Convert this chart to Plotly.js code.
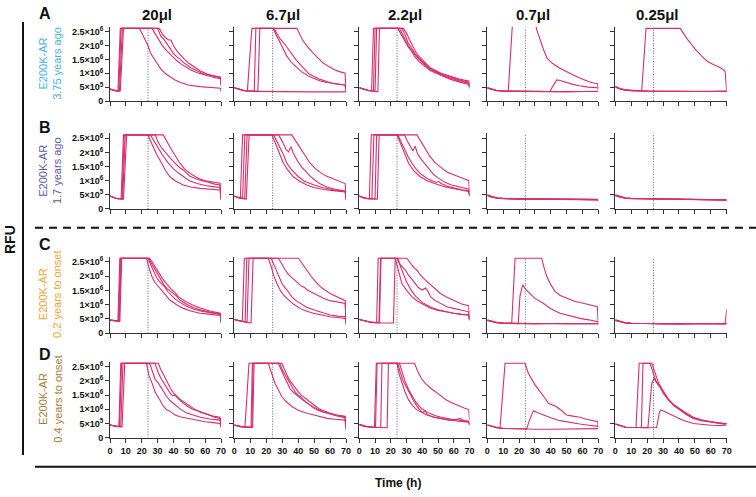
<!DOCTYPE html>
<html>
<head>
<meta charset="utf-8">
<script src="https://cdn.plot.ly/plotly-3.0.1.min.js"></script>
<style>html,body{margin:0;padding:0;background:#fff}#chart{width:756px;height:497px}</style>
</head>
<body>
<div id="chart"></div>
<script>
// ---------- DATA (time in h, RFU in units of 10^6) ----------
const volumes = ["20μl", "6.7μl", "2.2μl", "0.7μl", "0.25μl"];
const rowLetters = ["A", "B", "C", "D"];
const rowLabels = ["E200K-AR<br>3.75 years ago", "E200K-AR<br>1.7 years ago", "E200K-AR<br>0.2 years to onset", "E200K-AR<br>0.4 years to onset"];
const rowColors = ["#45b2e3", "#5a5ca6", "#f2a533", "#a98035"];
const yTickVals = [0, 0.5, 1, 1.5, 2, 2.5];
const yTickText = ["0", "5×10<sup>5</sup>", "1×10<sup>6</sup>", "1.5×10<sup>6</sup>", "2×10<sup>6</sup>", "2.5×10<sup>6</sup>"];
const xTickVals = [0, 10, 20, 30, 40, 50, 60, 70];
const markerHour = 24;

// Row A
const A_20 = [
 [[0,.43],[2,.39],[4,.36],[5,.36],[6.5,2.62],[18.5,2.62],[21,2.36],[23.8,2.02],[25.6,1.72],[29.4,1.36],[32,1.16],[34.7,1.0],[38,.86],[41,.76],[45,.66],[49.4,.58],[56.7,.52],[62,.49],[68.3,.46],[69.7,.46],[70,.34]],
 [[0,.43],[2,.39],[4,.37],[5.5,.37],[7,2.62],[26.5,2.62],[29,2.38],[31,2.15],[33,2.0],[36,1.8],[39,1.63],[42,1.46],[45,1.33],[48,1.22],[51,1.12],[55,1.02],[60,.93],[65,.86],[69.6,.80],[70,.60]],
 [[0,.43],[2,.39],[4,.36],[6,.36],[7.8,2.62],[30,2.62],[32,2.35],[34,2.22],[36,2.05],[38,1.9],[40,1.72],[42,1.6],[44,1.52],[46,1.40],[48,1.32],[51,1.2],[54,1.12],[58,1.0],[63,.93],[67,.89],[69.6,.87],[70,.55]],
 [[0,.43],[2,.39],[4,.36],[6.5,.36],[8.5,2.62],[31,2.62],[33,2.42],[35,2.28],[37,2.2],[38.5,2.2],[40,2.0],[42,1.82],[44,1.68],[47,1.5],[50,1.35],[53,1.22],[57,1.08],[62,.96],[66,.9],[69.6,.84],[70,.62]]
];
const A_6_7 = [
 [[0,.48],[3,.42],[6,.37],[10,.35],[20,.34],[30,.33],[40,.34],[50,.33],[60,.33],[69.5,.33],[70,.36]],
 [[0,.48],[3,.42],[6,.38],[8.2,.36],[11,2.62],[24.2,2.62],[26.5,2.35],[28.7,2.1],[31,1.85],[32.9,1.62],[36,1.38],[39.2,1.2],[42,1.06],[46.5,.9],[50,.8],[53.8,.72],[58,.67],[62,.63],[66,.6],[69.4,.58],[70,.34]],
 [[0,.48],[3,.42],[6,.38],[10,.36],[12.5,.36],[13.5,2.62],[25,2.62],[27,2.4],[29,2.22],[31,2.1],[32,2.02],[33,1.95],[35,1.78],[37,1.62],[39.2,1.45],[42,1.28],[46.5,1.0],[50,.88],[53.8,.78],[58,.7],[62,.63],[66,.6],[69.4,.58],[70,.4]],
 [[0,.48],[3,.42],[6,.38],[10,.36],[14.8,.36],[16,2.62],[39.2,2.62],[42.8,2.2],[46,1.95],[49.6,1.72],[53,1.52],[55.9,1.36],[59,1.25],[63.1,1.12],[66,1.06],[69.4,1.0],[70,.45]]
];
const A_2_2 = [
 [[0,.48],[3,.42],[6,.38],[7.8,.37],[9,2.62],[24.5,2.62],[26.5,2.42],[28,2.3],[29.5,2.12],[31,1.95],[33,1.82],[35,1.62],[38,1.42],[41,1.28],[45,1.1],[52,.92],[58,.78],[64,.68],[69.6,.6],[70,.45]],
 [[0,.48],[3,.42],[6,.38],[9,.37],[10,2.62],[25.5,2.62],[27.5,2.38],[29.5,2.15],[31.5,1.95],[33.5,1.8],[35.5,1.66],[38,1.5],[41,1.34],[45,1.14],[52,.95],[58,.82],[64,.72],[69.6,.64],[70,.5]],
 [[0,.48],[3,.42],[6,.38],[10,.36],[11,2.62],[27,2.62],[29,2.4],[31,2.1],[33,1.9],[35.5,1.7],[38,1.54],[41,1.38],[45,1.17],[52,.97],[58,.85],[64,.75],[69.6,.68],[70,.52]],
 [[0,.48],[3,.42],[6,.37],[11.8,.33],[12.8,2.62],[28,2.62],[30,2.45],[32,2.2],[34,1.98],[36,1.76],[38,1.6],[41,1.42],[45,1.2],[52,1.0],[58,.88],[64,.78],[69.6,.72],[70,.56]]
];
const A_0_7 = [
 [[0,.48],[3,.42],[6,.38],[10,.36],[13.2,.35],[16.3,3.2],[29.5,3.2],[31,2.6],[33.3,2.2],[35.5,1.85],[37.8,1.54],[41,1.36],[45.8,1.18],[50,1.05],[54.2,.94],[58,.84],[63.7,.70],[67,.65],[69.6,.62],[70,.45]],
 [[0,.48],[3,.42],[6,.38],[10,.36],[20,.35],[30,.34],[39.5,.34],[41,.5],[43.8,.76],[46,.74],[50,.66],[54,.6],[58,.55],[63.7,.5],[69.6,.48],[70,.4]],
 [[0,.48],[3,.42],[6,.38],[10,.36],[20,.35],[30,.34],[40,.34],[50,.33],[60,.34],[69.6,.34],[70,.35]],
 [[0,.46],[3,.41],[6,.37],[10,.35],[20,.34],[30,.33],[40,.34],[50,.34],[60,.33],[69.6,.33],[70,.34]]
];
const A_0_25 = [
 [[0,.52],[3,.44],[6.1,.40],[10,.38],[16.6,.37],[19.3,2.62],[40.7,2.62],[44.9,2.26],[47.5,2.05],[50.1,1.88],[54,1.64],[57.4,1.45],[60,1.36],[63.7,1.27],[66,1.2],[69,1.08],[70,.34]],
 [[0,.52],[3,.44],[6,.40],[10,.38],[20,.36],[30,.35],[40,.35],[50,.34],[60,.34],[69.6,.34],[70,.34]],
 [[0,.5],[3,.43],[6,.39],[10,.37],[20,.36],[30,.35],[40,.34],[50,.35],[60,.34],[69.6,.35],[70,.35]],
 [[0,.51],[3,.44],[6,.4],[10,.37],[20,.35],[30,.34],[40,.34],[50,.34],[60,.35],[69.6,.34],[70,.36]]
];
// Row B
const B_20 = [
 [[0,.46],[2,.41],[4,.37],[7,.36],[8.5,2.62],[23.8,2.62],[25.5,2.42],[27.3,2.2],[29.5,1.92],[32.6,1.62],[35,1.36],[37.8,1.14],[41,1.0],[46.2,.85],[51,.78],[56.7,.73],[63,.7],[69.4,.67],[70,.32]],
 [[0,.46],[2,.41],[4,.37],[7.5,.36],[9,2.62],[25.4,2.62],[27.5,2.42],[29.9,2.2],[33,1.92],[36.8,1.62],[40,1.42],[43,1.28],[46.2,1.14],[50,1.0],[55,.9],[60,.83],[65,.79],[69.4,.76],[70,.45]],
 [[0,.46],[2,.41],[4,.37],[8,.36],[9.6,2.62],[28.6,2.62],[30,2.4],[32,2.2],[35,1.98],[38,1.8],[41,1.62],[44,1.46],[46.2,1.38],[48,1.3],[50.4,1.16],[53,1.1],[56.7,1.02],[62,.95],[66,.88],[69.4,.85],[70,.5]],
 [[0,.46],[2,.41],[4,.37],[8.5,.35],[10.5,2.62],[33.6,2.62],[36,2.35],[38.5,2.12],[41,1.9],[44.1,1.62],[47,1.42],[50.5,1.26],[54,1.14],[56.7,1.06],[60,1.0],[65,.95],[69.4,.91],[70,.35]]
];
const B_6_7 = [
 [[0,.46],[2,.41],[3.8,.38],[5.2,2.62],[23.5,2.62],[25,2.42],[26.6,2.2],[28.5,1.92],[30.8,1.62],[33.5,1.38],[37,1.14],[41,.98],[45.4,.85],[50,.76],[55.9,.69],[62,.65],[68,.61],[69.5,.6],[70,.32]],
 [[0,.46],[2,.41],[5.2,.37],[6.6,2.62],[24.6,2.62],[26.5,2.4],[29,2.15],[31,1.9],[32.9,1.62],[36,1.38],[40.2,1.14],[44,.98],[49.6,.86],[55,.76],[62,.68],[68,.63],[69.5,.62],[70,.4]],
 [[0,.46],[2,.41],[6.5,.36],[8,2.62],[27.7,2.62],[30,2.4],[32.5,2.1],[34,2.02],[35.5,2.2],[37,1.98],[39.1,1.75],[42,1.5],[45,1.32],[47.5,1.16],[51,1.0],[54,.88],[58,.78],[63,.7],[68,.65],[69.5,.64],[70,.42]],
 [[0,.46],[2,.41],[7.5,.35],[9.3,2.62],[36,2.62],[38.5,2.4],[41.3,2.2],[44,1.95],[47.5,1.62],[51,1.42],[54.8,1.26],[58,1.16],[62,1.06],[66.3,.96],[68.5,.92],[69.5,.9],[70,.35]]
];
const B_2_2 = [
 [[0,.46],[2,.41],[4,.37],[6.4,.36],[7.6,2.62],[23.9,2.62],[25.5,2.4],[27.5,2.1],[29.5,1.85],[31.3,1.62],[34.5,1.36],[38.7,1.14],[43,1.0],[47.2,.91],[52,.82],[56,.76],[60,.72],[65,.66],[69.5,.62],[70,.45]],
 [[0,.46],[2,.41],[5,.37],[8,.36],[9.3,2.62],[24.5,2.62],[26.5,2.38],[28.5,2.12],[31,1.85],[33.5,1.62],[36,1.42],[39,1.24],[43,1.08],[47,.98],[49,.94],[50.5,.98],[52,.9],[56,.8],[60,.74],[65,.68],[69.5,.64],[70,.48]],
 [[0,.46],[2,.41],[5,.37],[10,.36],[11,2.62],[28.8,2.62],[30.5,2.4],[32.5,2.2],[34,2.05],[35.5,2.22],[37,1.95],[39,1.78],[41.5,1.6],[44,1.42],[47.2,1.22],[50,1.1],[54,.96],[58,.86],[63,.78],[69.5,.7],[70,.5]],
 [[0,.46],[2,.41],[5,.37],[11.5,.35],[12.6,2.62],[36.6,2.62],[39,2.4],[42,2.1],[45,1.85],[48,1.65],[50,1.55],[53,1.42],[56,1.3],[60,1.2],[64,1.12],[67,1.06],[69.5,1.0],[70,.6]]
];
const B_0_7 = [
 [[0,.5],[3,.43],[6,.4],[10,.38],[20,.36],[30,.35],[40,.35],[50,.34],[60,.34],[69.5,.33],[70,.3]],
 [[0,.48],[3,.42],[6,.39],[10,.37],[20,.35],[30,.34],[40,.35],[50,.35],[60,.34],[69.5,.34],[70,.32]],
 [[0,.49],[3,.43],[6,.39],[10,.37],[20,.36],[30,.35],[40,.34],[50,.34],[60,.35],[69.5,.34],[70,.31]],
 [[0,.47],[3,.42],[6,.38],[10,.36],[20,.35],[30,.34],[40,.34],[50,.33],[60,.33],[69.5,.33],[70,.3]]
];
const B_0_25 = [
 [[0,.5],[3,.44],[6,.4],[10,.38],[20,.37],[30,.36],[40,.35],[50,.35],[60,.34],[69.5,.34],[70,.32]],
 [[0,.48],[3,.42],[6,.39],[10,.37],[20,.36],[30,.35],[40,.34],[50,.34],[60,.34],[69.5,.33],[70,.31]],
 [[0,.49],[3,.43],[6,.39],[10,.37],[20,.35],[30,.35],[40,.35],[50,.34],[60,.33],[69.5,.34],[70,.32]],
 [[0,.47],[3,.42],[6,.38],[10,.36],[20,.35],[30,.34],[40,.34],[50,.34],[60,.33],[69.5,.33],[70,.3]]
];
// Row C
const C_20 = [
 [[0,.46],[2,.44],[4,.43],[5,.43],[6.2,2.62],[23,2.62],[24.5,2.3],[26.3,2.0],[28,1.8],[30.5,1.63],[34,1.38],[37.8,1.16],[42,1.0],[46.2,.87],[51,.78],[56.7,.7],[62,.67],[68.3,.64],[69.6,.62],[70,.35]],
 [[0,.46],[2,.44],[4,.43],[5.4,.43],[6.6,2.62],[24,2.62],[26,2.35],[28,2.1],[29.4,1.95],[31,1.82],[33,1.7],[34.7,1.6],[36.5,1.45],[38.9,1.3],[41,1.2],[44.1,1.08],[48,.95],[52.5,.85],[57,.78],[63,.72],[69.6,.66],[70,.4]],
 [[0,.46],[2,.44],[4,.42],[5.8,.42],[7,2.62],[24.5,2.62],[26.5,2.4],[28.5,2.2],[30.5,2.0],[32.5,1.82],[34,1.7],[36,1.56],[38,1.48],[40,1.38],[42,1.3],[44.1,1.16],[48,1.02],[52.5,.9],[58,.8],[63,.74],[69.6,.68],[70,.42]],
 [[0,.46],[2,.44],[4,.42],[6.2,.42],[7.4,2.62],[25,2.62],[27,2.45],[29,2.25],[31,2.1],[33,1.92],[35,1.8],[37,1.65],[39,1.52],[41,1.42],[43,1.28],[45,1.2],[48,1.1],[52.5,.98],[57,.88],[63,.78],[69.6,.7],[70,.4]]
];
const C_6_7 = [
 [[0,.48],[2,.45],[4,.42],[5,.41],[6.3,2.62],[21.3,2.62],[23,2.35],[24.5,2.05],[26.6,1.75],[29,1.48],[31,1.32],[33.9,1.16],[37,1.02],[41.2,.87],[45,.78],[49.6,.7],[55,.63],[60,.58],[65,.55],[69.5,.52],[70,.35]],
 [[0,.48],[2,.45],[4,.42],[6.8,.4],[7.8,2.62],[23,2.62],[25,2.38],[27,2.1],[28.5,1.95],[29.8,1.75],[31.5,1.6],[33,1.52],[34.5,1.4],[36,1.28],[38.5,1.15],[41.2,1.05],[45,.92],[49.6,.82],[55,.72],[60,.64],[65,.6],[69.5,.58],[70,.38]],
 [[0,.48],[2,.45],[4,.42],[8,.39],[9.2,2.62],[27.7,2.62],[29.5,2.42],[31.9,2.21],[34,2.05],[36,1.95],[38,1.85],[40.2,1.75],[42,1.65],[44,1.6],[45.5,1.52],[47.5,1.46],[50,1.38],[52,1.32],[55.9,1.22],[60,1.14],[64,1.1],[68.5,1.05],[69.5,1.04],[70,.42]],
 [[0,.48],[2,.45],[4,.42],[8,.38],[10.5,.36],[11.8,2.62],[40.2,2.62],[43,2.38],[45.4,2.21],[48,2.0],[51.7,1.75],[55,1.58],[60,1.39],[64,1.28],[68.5,1.16],[69.5,1.14],[70,.29]]
];
const C_2_2 = [
 [[0,.48],[2,.45],[4,.42],[8,.38],[11,.37],[12,2.62],[22.8,2.62],[24.5,2.3],[27,1.75],[30,1.5],[33.4,1.28],[37,1.12],[40.9,.99],[45,.88],[49.4,.81],[55,.74],[60,.7],[65,.66],[69.5,.64],[70,.45]],
 [[0,.48],[2,.45],[4,.42],[8,.38],[12.8,.37],[13.8,2.62],[24,2.62],[26,2.4],[29.3,2.21],[31,2.05],[33,1.92],[35.5,1.75],[37.5,1.6],[40,1.51],[42,1.58],[43.5,1.48],[45.2,1.28],[48,1.15],[52,1.02],[56,.92],[60,.87],[65,.8],[69.5,.75],[70,.5]],
 [[0,.48],[2,.45],[4,.42],[8,.38],[12.5,.37],[13.5,2.62],[30.2,2.62],[32.5,2.45],[34.5,2.3],[36.6,2.21],[39,2.02],[41.5,1.88],[44,1.75],[47,1.6],[49,1.5],[51.5,1.39],[55,1.28],[58,1.2],[61,1.1],[65,1.02],[69.5,.96],[70,.55]],
 [[0,.48],[2,.45],[4,.42],[8,.38],[15,.36],[21.7,.36],[22.8,2.62],[24.5,2.62],[26,2.35],[28,2.05],[30,1.8],[33,1.5],[36,1.28],[40,1.08],[45,.92],[50,.82],[55,.75],[60,.7],[65,.66],[69.5,.64],[70,.45]]
];
const C_0_7 = [
 [[0,.46],[3,.41],[6,.38],[10,.36],[15.4,.35],[17.5,2.62],[34.3,2.62],[36,2.25],[37.5,1.98],[40,1.7],[42.7,1.46],[46,1.32],[50,1.22],[55,1.12],[60.5,1.05],[65,.98],[69.4,.93],[70,.3]],
 [[0,.46],[3,.41],[6,.38],[10,.36],[19.5,.34],[20.6,1.3],[22.3,1.69],[24,1.55],[26.5,1.4],[30,1.22],[35.3,1.05],[40,.86],[45.8,.7],[52,.6],[58.4,.52],[64,.47],[69.4,.43],[70,.4]],
 [[0,.46],[3,.41],[6,.37],[10,.35],[20,.34],[30,.33],[40,.33],[50,.33],[60,.33],[69.5,.33],[70,.33]],
 [[0,.45],[3,.4],[6,.37],[10,.35],[20,.33],[30,.33],[40,.34],[50,.33],[60,.34],[69.5,.34],[70,.34]]
];
const C_0_25 = [
 [[0,.46],[3,.41],[6,.37],[10,.35],[20,.34],[30,.33],[40,.33],[50,.33],[60,.33],[69,.33],[70,.84]],
 [[0,.46],[3,.41],[6,.37],[10,.35],[20,.34],[30,.34],[40,.33],[50,.34],[60,.33],[69,.34],[70,.35]],
 [[0,.45],[3,.4],[6,.36],[10,.35],[20,.33],[30,.33],[40,.34],[50,.33],[60,.34],[69,.33],[70,.34]],
 [[0,.47],[3,.41],[6,.37],[10,.35],[20,.34],[30,.33],[40,.33],[50,.34],[60,.33],[69,.34],[70,.35]]
];
// Row D
const D_20 = [
 [[0,.45],[2,.42],[4,.40],[5.6,.40],[6.8,2.62],[23,2.62],[24.5,2.2],[26.5,1.92],[28.5,1.6],[31.5,1.33],[33.5,1.12],[35.7,.98],[37,.96],[38.5,.9],[41,.8],[44.1,.74],[49,.68],[54.6,.62],[60,.56],[65,.53],[69.4,.5],[70,.36]],
 [[0,.45],[2,.42],[4,.4],[6,.4],[7.3,2.62],[25,2.62],[27,2.3],[28.5,2.05],[30.5,1.92],[33,1.68],[35.7,1.45],[38,1.3],[40,1.2],[42,1.1],[45,.98],[48,.88],[52,.8],[57,.72],[63,.66],[69.4,.62],[70,.42]],
 [[0,.45],[2,.42],[4,.4],[6.8,.39],[8.2,2.62],[28.4,2.62],[30,2.35],[32,2.1],[34,1.92],[36,1.72],[38,1.56],[39.5,1.48],[41,1.5],[43,1.38],[46.2,1.21],[49,1.1],[52,1.0],[56.7,.92],[62,.8],[66,.72],[69.4,.68],[70,.46]],
 [[0,.45],[2,.42],[4,.4],[7.6,.38],[9.3,2.62],[30.5,2.62],[32,2.4],[34,2.2],[36,1.95],[38,1.75],[40,1.58],[42,1.45],[44,1.36],[47,1.24],[50.4,1.1],[54,.98],[57,.9],[61,.82],[65,.76],[69.4,.72],[70,.5]]
];
const D_6_7 = [
 [[0,.45],[2,.42],[4,.4],[6.7,.38],[9.2,2.62],[21.3,2.62],[23,2.3],[25.5,1.92],[27.5,1.7],[29.7,1.45],[32,1.3],[36,1.1],[40,.97],[45.4,.86],[50,.8],[54,.74],[58,.68],[63,.65],[69.4,.62],[70,.27]],
 [[0,.45],[2,.42],[4,.39],[10.5,.37],[11.3,2.62],[27.6,2.62],[29.5,2.35],[31.5,2.12],[33,1.95],[35,1.72],[37,1.6],[39,1.5],[41.3,1.4],[44,1.28],[46,1.2],[49.6,1.08],[53,.98],[56,.9],[60,.84],[65,.78],[69.4,.74],[70,.42]],
 [[0,.45],[2,.42],[4,.39],[11,.37],[11.8,2.62],[28.5,2.62],[30,2.4],[32,2.2],[34,2.0],[36,1.8],[38,1.62],[40,1.5],[41.3,1.45],[43,1.35],[46,1.2],[49.6,1.05],[53,.95],[57,.88],[61,.82],[65,.76],[69.4,.7],[70,.4]],
 [[0,.45],[2,.42],[4,.39],[11.5,.36],[12.4,2.62],[29.8,2.62],[31.5,2.38],[33.5,2.15],[35,2.0],[37.5,1.8],[40,1.62],[42,1.5],[44,1.42],[47,1.28],[50,1.15],[53,1.02],[56,.94],[60,.86],[64,.8],[69.4,.76],[70,.45]]
];
const D_2_2 = [
 [[0,.46],[2,.42],[4,.4],[8,.37],[9.6,.36],[10.8,2.62],[23.9,2.62],[25.5,2.2],[27,1.92],[29,1.62],[31.3,1.33],[34,1.12],[36.6,.98],[40,.88],[43,.8],[48,.72],[53,.66],[57.9,.62],[63,.58],[69.5,.55],[70,.45]],
 [[0,.46],[2,.42],[4,.4],[9,.37],[10.3,.37],[11.3,2.62],[24.5,2.62],[26,2.3],[28,1.98],[30.5,1.72],[32.5,1.5],[34.5,1.3],[36.5,1.12],[38.5,1.0],[40,.88],[41.9,.95],[43,.82],[47,.72],[52,.66],[57,.62],[61.5,.64],[64.3,.68],[66,.6],[69.5,.56],[70,.45]],
 [[0,.46],[2,.42],[4,.4],[9,.37],[13.6,.36],[14.4,2.62],[25.5,2.62],[27,2.35],[29,2.0],[31.3,1.7],[33.5,1.48],[36,1.25],[39,1.05],[43,.9],[48,.78],[52,.72],[57.9,.66],[62,.62],[66,.6],[69.5,.58],[70,.5]],
 [[0,.46],[2,.42],[4,.4],[9,.37],[17.7,.35],[18.5,2.62],[35.1,2.62],[37,2.35],[39.3,2.1],[42,1.9],[44,1.8],[46.8,1.68],[50,1.55],[53,1.42],[55.3,1.33],[58,1.25],[61,1.18],[63.8,1.1],[67,1.04],[69.5,1.0],[70,.6]]
];
const D_0_7 = [
 [[0,.45],[3,.4],[6,.35],[8,.34],[11.2,2.62],[23.8,2.62],[25.9,2.27],[28,2.05],[30.1,1.86],[32,1.72],[34.3,1.56],[36.5,1.38],[38.5,1.21],[41,1.15],[43.7,1.09],[47,.95],[50,.8],[54,.76],[58.4,.72],[62,.66],[66,.6],[69.6,.56],[70,.35]],
 [[0,.45],[3,.4],[6,.35],[10,.33],[20,.31],[24.8,.31],[26.5,.6],[28,.85],[29,.95],[31,.9],[35.3,.8],[40,.7],[45.8,.6],[52,.53],[58.4,.48],[64,.44],[69.6,.42],[70,.4]],
 [[0,.45],[3,.4],[6,.35],[10,.33],[20,.31],[30,.30],[40,.30],[50,.30],[60,.31],[69.6,.31],[70,.32]]
];
const D_0_25 = [
 [[0,.48],[3,.42],[6.5,.37],[13,.36],[15,2.62],[21.8,2.62],[23.5,2.3],[25.5,2.0],[28,1.8],[30.5,1.55],[33.4,1.33],[37,1.12],[40.7,.98],[45,.82],[49,.7],[54,.62],[59.5,.56],[64,.52],[69,.49],[70,.5]],
 [[0,.48],[3,.42],[6.5,.37],[16.4,.36],[17.4,2.62],[23,2.62],[25,2.25],[27,1.95],[29,1.75],[31,1.55],[33.4,1.36],[37,1.15],[40.7,1.0],[45,.85],[49,.72],[54,.63],[59.5,.57],[64,.53],[69,.5],[70,.52]],
 [[0,.48],[3,.42],[6.5,.37],[20.5,.35],[22.9,1.9],[24.2,2.09],[26,1.95],[28,1.78],[30.5,1.55],[33.4,1.33],[37,1.12],[40.7,.96],[45,.8],[49,.68],[54,.6],[59.5,.55],[64,.51],[69,.48],[70,.5]],
 [[0,.48],[3,.42],[6.5,.37],[20,.35],[26,.36],[27.7,.9],[28.5,.98],[31,.92],[36.5,.76],[42,.62],[49,.5],[55,.46],[60,.44],[65,.43],[69,.42],[70,.44]]
];

const panels = [
  [A_20, A_6_7, A_2_2, A_0_7, A_0_25],
  [B_20, B_6_7, B_2_2, B_0_7, B_0_25],
  [C_20, C_6_7, C_2_2, C_0_7, C_0_25],
  [D_20, D_6_7, D_2_2, D_0_7, D_0_25]
];

// ---------- LAYOUT GEOMETRY (pixels) ----------
const W = 756, H = 497;
const colPx = [[110, 221], [234.3, 346], [359.3, 469.5], [487.3, 598.3], [615.3, 726.7]];
const rowZeroPx = [101, 209, 333.3, 437.7];
const rowSpan25 = [69.3, 70.7, 71.6, 71];
const yMax = 2.68;
const lineColor = "#d92d6e";
const FONT = "Liberation Sans, Arial, sans-serif";

const traces = [];
const layout = {
  width: W, height: H, margin: {l: 0, r: 0, t: 0, b: 0},
  paper_bgcolor: "#fff", plot_bgcolor: "rgba(0,0,0,0)",
  showlegend: false, font: {family: FONT, color: "#111"},
  shapes: [], annotations: []
};

panels.forEach((rowPanels, r) => {
  rowPanels.forEach((curves, c) => {
    const idx = r * 5 + c + 1;
    const sfx = idx === 1 ? "" : String(idx);
    curves.forEach(curve => {
      traces.push({
        x: curve.map(p => p[0]), y: curve.map(p => p[1]),
        xaxis: "x" + sfx, yaxis: "y" + sfx, type: "scatter", mode: "lines",
        line: {color: lineColor, width: 1.1}, hoverinfo: "skip"
      });
    });
    const ppu = rowSpan25[r] / 2.5;
    const z = rowZeroPx[r];
    const top = z - yMax * ppu;
    layout["xaxis" + sfx] = {
      domain: [colPx[c][0] / W, colPx[c][1] / W], anchor: "y" + sfx,
      range: [0, 70], tickvals: xTickVals, showticklabels: r === 3,
      ticks: "outside", ticklen: 4, tickwidth: 1, tickcolor: "#333",
      showline: true, linecolor: "#333", linewidth: 1, showgrid: false, zeroline: false,
      tickfont: {family: FONT, size: 9, weight: "bold", color: "#111"}, fixedrange: true
    };
    layout["yaxis" + sfx] = {
      domain: [(H - z) / H, (H - top) / H], anchor: "x" + sfx,
      range: [0, yMax], tickvals: yTickVals, ticktext: yTickText, showticklabels: c === 0,
      ticks: "outside", ticklen: 4, tickwidth: 1, tickcolor: "#333",
      showline: true, linecolor: "#333", linewidth: 1, showgrid: false, zeroline: false,
      tickfont: {family: FONT, size: 9, weight: "bold", color: "#111"}, fixedrange: true
    };
    layout.shapes.push({
      type: "line", xref: "x" + sfx, yref: "y" + sfx,
      x0: markerHour, x1: markerHour, y0: 0, y1: 2.62,
      line: {color: "#555", width: 0.9, dash: "1px,1.6px"}
    });
  });
});

// column titles
const titleCenters = [157, 283, 405, 533, 657];
volumes.forEach((v, c) => layout.annotations.push({
  text: v, xref: "paper", yref: "paper", x: titleCenters[c] / W, y: (H - 15) / H,
  showarrow: false, xanchor: "center", yanchor: "middle",
  font: {family: FONT, size: 15, weight: "bold", color: "#111"}
}));
// row letters
const letterY = [14, 127, 244, 354];
rowLetters.forEach((L, r) => layout.annotations.push({
  text: L, xref: "paper", yref: "paper", x: 45 / W, y: (H - letterY[r]) / H,
  showarrow: false, xanchor: "center", yanchor: "middle",
  font: {family: FONT, size: 16, weight: "bold", color: "#111"}
}));
// row labels
rowLabels.forEach((t, r) => {
  const ppu = rowSpan25[r] / 2.5;
  const z = rowZeroPx[r];
  const cy = z - yMax * ppu / 2;
  layout.annotations.push({
    text: t, xref: "paper", yref: "paper", x: 50 / W, y: (H - cy) / H,
    showarrow: false, xanchor: "center", yanchor: "middle", textangle: -90,
    font: {family: FONT, size: 11, color: rowColors[r]}
  });
});
layout.annotations.push({
  text: "RFU", xref: "paper", yref: "paper", x: 10 / W, y: (H - 240) / H,
  showarrow: false, xanchor: "center", yanchor: "middle", textangle: -90,
  font: {family: FONT, size: 14, weight: "bold", color: "#111"}
});
layout.annotations.push({
  text: "Time (h)", xref: "paper", yref: "paper", x: 398 / W, y: (H - 483) / H,
  showarrow: false, xanchor: "center", yanchor: "middle",
  font: {family: FONT, size: 12, weight: "bold", color: "#111"}
});
// frame lines
layout.shapes.push({type: "line", xref: "paper", yref: "paper", x0: 23 / W, x1: 23 / W, y0: (H - 22) / H, y1: (H - 455) / H, line: {color: "#111", width: 2}});
layout.shapes.push({type: "line", xref: "paper", yref: "paper", x0: 35 / W, x1: 1, y0: (H - 227.7) / H, y1: (H - 227.7) / H, line: {color: "#111", width: 2, dash: "8px,6px"}});
layout.shapes.push({type: "line", xref: "paper", yref: "paper", x0: 35 / W, x1: 1, y0: (H - 466.7) / H, y1: (H - 466.7) / H, line: {color: "#111", width: 2}});

Plotly.newPlot("chart", traces, layout, {displayModeBar: false, staticPlot: true});
</script>
</body>
</html>
